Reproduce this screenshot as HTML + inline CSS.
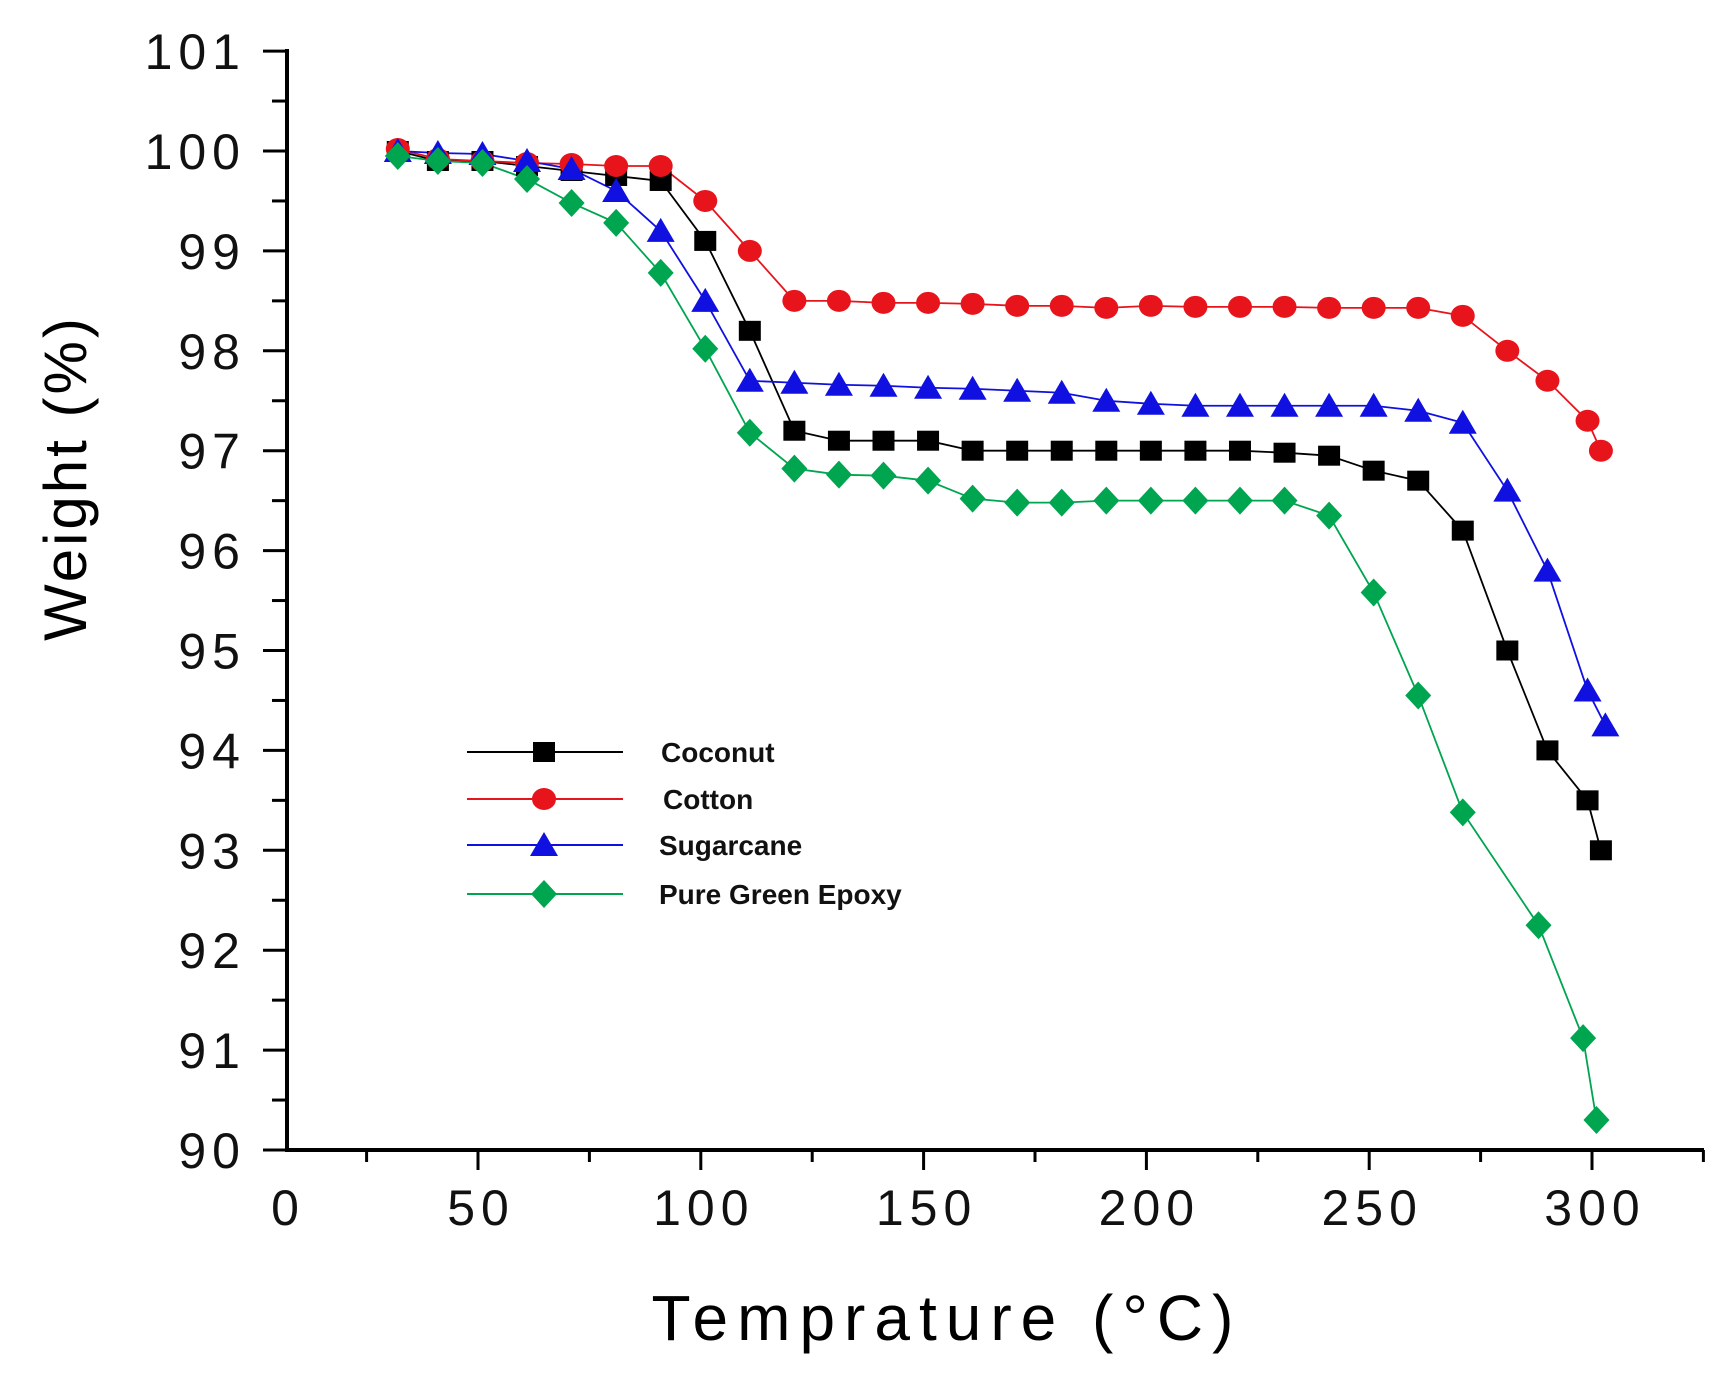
<!DOCTYPE html>
<html><head><meta charset="utf-8"><style>
html,body{margin:0;padding:0;background:#fff;width:1728px;height:1375px;overflow:hidden}
svg{display:block}
text{font-family:"Liberation Sans",sans-serif}
</style></head><body>
<svg id="s" width="1728" height="1375" xmlns="http://www.w3.org/2000/svg">
<g stroke="#000" stroke-width="4" fill="none">
<line x1="287" y1="1150" x2="1704" y2="1150"/>
<line x1="287" y1="49" x2="287" y2="1152"/>
</g>
<g id="ticks" stroke="#000" stroke-width="3"></g>
<g id="labels" font-size="50" fill="#111" letter-spacing="6"></g>
<text x="0" y="0" font-size="60" fill="#000" letter-spacing="3" transform="translate(86,478) rotate(-90)" text-anchor="middle">Weight (%)</text>
<text x="947" y="1340" font-size="64" fill="#000" text-anchor="middle" letter-spacing="9">Temprature (°C)</text>
<g id="plot"></g>
<g id="legend"></g>
</svg>
<script>
const NS="http://www.w3.org/2000/svg";
function el(p,t,a){const e=document.createElementNS(NS,t);for(const k in a)e.setAttribute(k,a[k]);p.appendChild(e);return e;}
const X=T=>478+(T-50)*4.456, Y=W=>1150-(W-90)*99.9;
const tk=document.getElementById('ticks'), lb=document.getElementById('labels');
for(let v=90;v<=101;v+=0.5){const y=Y(v);const major=Number.isInteger(v);el(tk,'line',{x1:major?263:272,y1:y,x2:287,y2:y});
 if(major){const t=el(lb,'text',{x:246,y:y+18,'text-anchor':'end'});t.textContent=v;}}
for(let T=25;T<=325;T+=25){const x=X(T);const major=T%50==0;el(tk,'line',{x1:x,y1:1150,x2:x,y2:major?1170:1162});
 if(major){const t=el(lb,'text',{x:x+3,y:1225,'text-anchor':'middle'});t.textContent=T;}}
{const t=el(lb,'text',{x:288,y:1225,'text-anchor':'middle'});t.textContent='0';}
const S=[
{c:'#000',m:'sq',d:[[32,100],[41,99.9],[51,99.9],[61,99.85],[71,99.8],[81,99.75],[91,99.7],[101,99.1],[111,98.2],[121,97.2],[131,97.1],[141,97.1],[151,97.1],[161,97.0],[171,97],[181,97],[191,97],[201,97],[211,97],[221,97],[231,96.98],[241,96.95],[251,96.8],[261,96.7],[271,96.2],[281,95.0],[290,94.0],[299,93.5],[302,93.0]]},
{c:'#e8141b',m:'ci',d:[[32,100.02],[41,99.92],[51,99.9],[61,99.88],[71,99.87],[81,99.85],[91,99.85],[101,99.5],[111,99.0],[121,98.5],[131,98.5],[141,98.48],[151,98.48],[161,98.47],[171,98.45],[181,98.45],[191,98.43],[201,98.45],[211,98.44],[221,98.44],[231,98.44],[241,98.43],[251,98.43],[261,98.43],[271,98.35],[281,98.0],[290,97.7],[299,97.3],[302,97.0]]},
{c:'#1010e0',m:'tr',d:[[32,100],[41,99.98],[51,99.97],[61,99.9],[71,99.82],[81,99.6],[91,99.2],[101,98.5],[111,97.7],[121,97.68],[131,97.66],[141,97.65],[151,97.63],[161,97.62],[171,97.6],[181,97.58],[191,97.5],[201,97.47],[211,97.45],[221,97.45],[231,97.45],[241,97.45],[251,97.45],[261,97.4],[271,97.28],[281,96.6],[290,95.8],[299,94.6],[303,94.25]]},
{c:'#00a550',m:'di',d:[[32,99.95],[41,99.9],[51,99.88],[61,99.72],[71,99.48],[81,99.28],[91,98.78],[101,98.02],[111,97.18],[121,96.82],[131,96.76],[141,96.75],[151,96.7],[161,96.52],[171,96.48],[181,96.48],[191,96.5],[201,96.5],[211,96.5],[221,96.5],[231,96.5],[241,96.35],[251,95.58],[261,94.55],[271,93.38],[288,92.25],[298,91.12],[301,90.3]]}];
function mk(g,m,x,y,c){
 if(m=='sq')el(g,'rect',{x:x-11,y:y-10,width:22,height:20,fill:c});
 else if(m=='ci')el(g,'ellipse',{cx:x,cy:y,rx:12,ry:11,fill:c});
 else if(m=='tr')el(g,'polygon',{points:`${x},${y-13} ${x+14},${y+11} ${x-14},${y+11}`,fill:c});
 else el(g,'polygon',{points:`${x},${y-14} ${x+13},${y} ${x},${y+14} ${x-13},${y}`,fill:c});
}
const pg=document.getElementById('plot');
S.forEach(s=>{el(pg,'polyline',{points:s.d.map(p=>X(p[0])+','+Y(p[1])).join(' '),fill:'none',stroke:s.c,'stroke-width':1.8});});
S.forEach(s=>{s.d.forEach(p=>mk(pg,s.m,X(p[0]),Y(p[1]),s.c));});
const lg=document.getElementById('legend');const names=['Coconut','Cotton','Sugarcane','Pure Green Epoxy'];const ly=[752,799,845,894];const lx=[661,663,659,659];
S.forEach((s,i)=>{el(lg,'line',{x1:467,y1:ly[i],x2:623,y2:ly[i],stroke:s.c,'stroke-width':2});mk(lg,s.m,544,ly[i],s.c);
 const t=el(lg,'text',{x:lx[i],y:ly[i]+10,'font-size':28,'font-weight':'bold',fill:'#111'});t.textContent=names[i];});
</script>
</body></html>
